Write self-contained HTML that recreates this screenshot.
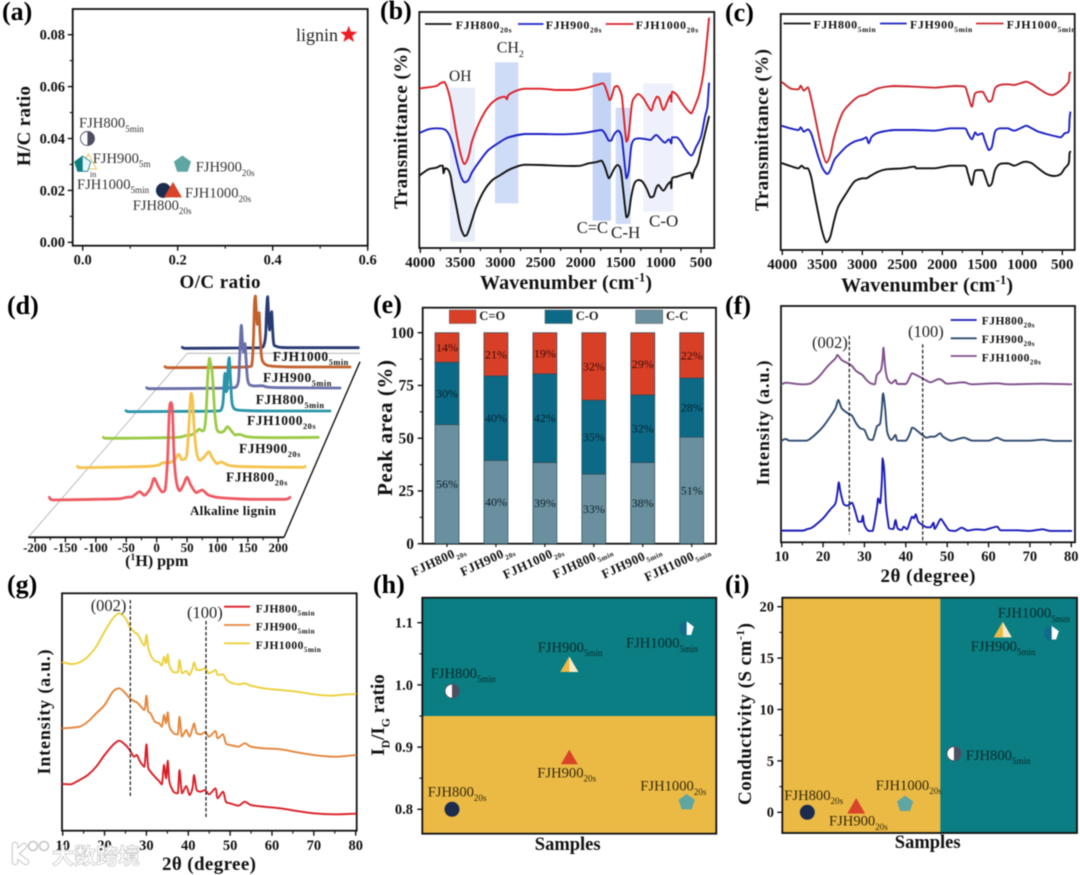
<!DOCTYPE html>
<html lang="en">
<head>
<meta charset="utf-8">
<title>FJH carbon characterisation figure</title>
<style>
html,body{margin:0;padding:0;background:#fff;width:1080px;height:875px;overflow:hidden}
svg{display:block;filter:blur(0.5px)}
text{font-family:"Liberation Serif","Noto Serif CJK SC",serif}
</style>
</head>
<body>
<svg id="figure" xmlns="http://www.w3.org/2000/svg" width="1080" height="875" viewBox="0 0 1080 875"></svg>
<script>
/* ---------- data: panel a ---------- */
const aXTickValues=[0,0.2,0.4,0.6];
const aXTickLabels=['0.0','0.2','0.4','0.6'];
const aYTickValues=[0,0.02,0.04,0.06,0.08];
const aYTickLabels=['0.00','0.02','0.04','0.06','0.08'];
const aOC=[0.56,0.01,0,0.012,0.17,0.19,0.21];
const aHC=[0.08,0.04,0.03,0.031,0.02,0.02,0.03];
/* ---------- data: panel b ---------- */
const ftirXTickValues=[4000,3500,3000,2500,2000,1500,1000,500];
const ftirXTickLabels=['4000','3500','3000','2500','2000','1500','1000','500'];
const bBlack=[[4000,525],[3900,508],[3800,503],[3750,497],[3720,497],[3710,520],[3690,505],[3650,510],[3620,530],[3600,560],[3550,620],[3500,680],[3450,708],[3420,705],[3380,680],[3300,620],[3200,570],[3100,540],[3000,525],[2900,510],[2800,500],[2700,494],[2500,495],[2300,497],[2100,498],[2000,497],[1900,490],[1800,486],[1740,482],[1700,500],[1650,535],[1620,525],[1580,505],[1540,495],[1500,510],[1470,570],[1430,652],[1400,640],[1370,590],[1330,550],[1280,540],[1230,545],[1180,565],[1130,592],[1090,588],[1060,565],[1030,555],[970,572],[920,555],[880,545],[870,565],[860,535],[800,530],[700,522],[630,518],[610,535],[590,515],[540,490],[500,450],[450,400],[400,350]];
const bBlue=[[4000,398],[3900,388],[3800,385],[3700,388],[3650,400],[3600,430],[3550,480],[3500,525],[3450,547],[3400,540],[3350,515],[3250,480],[3150,450],[3000,425],[2900,412],[2700,402],[2500,402],[2200,403],[2000,400],[1800,392],[1740,390],[1700,400],[1650,422],[1620,422],[1580,402],[1530,392],[1490,410],[1470,450],[1430,535],[1400,510],[1370,440],[1340,420],[1280,415],[1200,417],[1130,420],[1060,405],[1000,418],[950,428],[900,418],[870,430],[860,412],[800,412],[750,425],[700,445],[620,467],[560,440],[500,410],[450,350],[420,320],[400,250]];
const bRed=[[4000,265],[3900,262],[3800,258],[3750,250],[3700,246],[3650,275],[3600,330],[3550,400],[3500,460],[3450,492],[3400,470],[3350,420],[3250,360],[3150,320],[3050,298],[2950,290],[2920,298],[2900,285],[2800,272],[2700,266],[2500,266],[2300,270],[2100,270],[1950,265],[1800,255],[1720,250],[1680,270],[1640,300],[1620,295],[1580,262],[1540,258],[1490,285],[1470,330],[1430,425],[1400,400],[1360,310],[1320,290],[1280,282],[1220,295],[1170,315],[1120,332],[1090,310],[1050,290],[1020,295],[970,330],[920,305],[880,285],[870,305],[860,275],[800,285],[720,315],[650,335],[620,340],[580,320],[520,280],[470,220],[430,130],[400,55]];
const bBandNames=['OH','CH2','C=C','C-H','C-O'];
const bBandFrom=[3630,3069,1851,1564,1219];
const bBandTo=[3318,2778,1622,1377,845];
const bBandHigh=[263,187,218,323,250];
const bBandLow=[725,610,662,672,635];
const bBandFill=['#e8edf9','#cfdcf7','#c3d3f5','#cfdcf7','#eef1fb'];
/* ---------- data: panel c ---------- */
const cBlack=[[4000,490],[3900,498],[3800,505],[3760,497],[3720,505],[3680,505],[3640,530],[3600,580],[3550,640],[3500,695],[3450,727],[3400,710],[3350,660],[3300,620],[3200,580],[3100,545],[3000,535],[2950,535],[2900,528],[2800,515],[2700,508],[2500,505],[2350,500],[2320,505],[2100,505],[1900,497],[1720,497],[1680,520],[1630,555],[1590,512],[1500,510],[1470,525],[1420,558],[1380,550],[1340,510],[1280,492],[1180,490],[1100,497],[1000,487],[950,485],[880,490],[800,505],[700,522],[600,528],[520,522],[470,505],[420,490],[410,460],[400,455]];
const cBlue=[[4000,378],[3900,385],[3800,390],[3770,382],[3730,395],[3680,388],[3640,400],[3600,430],[3550,470],[3500,503],[3440,522],[3400,510],[3350,480],[3300,465],[3200,440],[3100,425],[3000,418],[2950,412],[2920,430],[2880,410],[2800,398],[2600,390],[2350,390],[2100,392],[1900,385],[1720,385],[1680,400],[1630,418],[1590,397],[1560,405],[1500,400],[1470,420],[1420,450],[1380,440],[1340,395],[1280,385],[1180,385],[1100,392],[1000,382],[950,377],[880,385],[800,395],[700,402],[600,408],[520,412],[470,400],[420,395],[410,360],[400,337]];
const cRed=[[4000,247],[3900,265],[3800,268],[3770,257],[3730,272],[3680,262],[3650,285],[3600,340],[3550,400],[3500,455],[3450,488],[3400,465],[3350,410],[3250,340],[3150,310],[3050,290],[2950,283],[2800,265],[2600,258],[2350,260],[2100,263],[1850,258],[1720,260],[1680,285],[1630,320],[1590,280],[1500,275],[1470,285],[1420,305],[1380,300],[1340,265],[1280,255],[1180,253],[1100,255],[1000,248],[950,245],[880,252],[800,265],[700,280],[620,285],[540,275],[470,260],[420,245],[410,220],[400,218]];
/* ---------- data: panel d ---------- */
const dXTickValues=[-200,-150,-100,-50,0,50,100,150,200];
const dXTickLabels=['-200','-150','-100','-50','0','50','100','150','200'];
const dAlkaline=[[-176,8],[-170,0],[-100,2],[-60,4],[-50,8],[-40,10],[-28,25],[-20,14],[-10,35],[-4,65],[3,40],[9,24],[14,30],[18,120],[21,270],[23.5,292],[26,270],[29,120],[33,50],[38,28],[44,45],[50,68],[56,45],[65,22],[75,30],[85,15],[100,8],[130,4],[160,2],[210,2],[219,8]];
const dFjh80020s=[[-176,4],[-170,0],[-100,2],[-50,4],[-35,8],[-27,15],[-18,14],[-8,22],[0,40],[5,24],[10,26],[14,40],[17,110],[20,200],[21.5,223],[24,200],[27,110],[31,45],[36,22],[44,32],[52,48],[58,30],[66,12],[74,17],[85,8],[100,4],[150,2],[215,1],[219,4]];
const dFjh90020s=[[-176,3],[-170,0],[-100,1],[-40,3],[-25,8],[-15,10],[-5,20],[0,28],[6,22],[10,30],[13,80],[16,190],[19,240],[21,225],[23.5,205],[26,150],[29,70],[33,25],[40,18],[46,22],[52,35],[58,25],[66,10],[75,12],[85,6],[100,3],[150,2],[219,3]];
const dFjh100020s=[[-176,3],[-170,0],[-50,1],[0,2],[8,5],[12,30],[14.5,100],[16,115],[18,60],[20,70],[22,140],[24,162],[26,110],[29,30],[33,10],[40,5],[60,3],[100,2],[219,2]];
const dFjh8005min=[[-176,3],[-170,0],[-50,1],[0,3],[8,8],[12,30],[15,130],[17.5,190],[20,130],[21.5,110],[23,125],[25,135],[27,90],[30,30],[34,12],[45,8],[60,9],[70,5],[100,3],[219,2]];
const dFjh9005min=[[-176,3],[-170,0],[-50,1],[5,3],[10,15],[13,90],[15,190],[17,215],[19,170],[21,130],[23,150],[25,165],[27,100],[30,35],[35,14],[50,5],[100,2],[219,2]];
const dFjh10005min=[[-176,3],[-170,0],[-50,1],[0,2],[7,10],[11,40],[13,110],[15.5,155],[18,85],[20,55],[22,90],[24.5,110],[26.5,60],[29,15],[35,6],[60,2],[219,2]];
/* ---------- data: panel e ---------- */
const eCategories=[['FJH800','20s'],['FJH900','20s'],['FJH1000','20s'],['FJH800','5min'],['FJH900','5min'],['FJH1000','5min']];
const eYTickValues=[0,25,50,75,100];
const eYTickLabels=['0','25','50','75','100'];
const eCC=[56.5,39.5,38.5,33,38.5,50.5];
const eCO=[29.5,40,42,35,32,28];
const eCdO=[14,20.5,19.5,32,29.5,21.5];
const eCCLabels=['56%','40%','39%','33%','38%','51%'];
const eCOLabels=['30%','40%','42%','35%','32%','28%'];
const eCdOLabels=['14%','21%','19%','32%','29%','22%'];
/* ---------- data: panel f ---------- */
const xrdXTickValues=[10,20,30,40,50,60,70,80];
const xrdXTickLabels=['10','20','30','40','50','60','70','80'];
const fBlue=[[10,707],[15,707],[16,703],[17,700],[18,692],[20,670],[21,655],[22,640],[23,625],[23.5,590],[23.8,562],[24.2,590],[25,628],[26,632],[27,623],[27.8,650],[28.5,680],[29.3,680],[29.6,662],[30,690],[31,708],[32,708],[33,640],[33.3,610],[33.8,625],[34.2,560],[34.4,490],[34.8,530],[35.2,630],[35.7,680],[36,700],[37,702],[37.5,675],[38,700],[39,705],[39.5,695],[40.3,703],[41,680],[41.5,665],[42,670],[42.4,658],[43,680],[44,690],[45,697],[46,697],[46.7,683],[47,702],[48,680],[48.5,672],[49.5,690],[50.5,706],[52,708],[53.5,698],[55,707],[57,703],[59,705],[62,695],[63,706],[67,706],[70,708],[73,703],[75,708],[80,708]];
const fSlate=[[10,437],[11,432],[12,437],[16,437],[18,420],[20,395],[22,360],[23,340],[23.7,315],[24.5,340],[26,355],[27,362],[28,385],[29,400],[30,405],[31,432],[32,435],[33,395],[33.8,385],[34.2,340],[34.5,295],[35,340],[35.5,410],[36.5,435],[37.5,420],[38,437],[40,437],[41,415],[41.5,398],[42,400],[43,410],[44,420],[45,428],[46,425],[47,425],[48.3,415],[49,425],[51,437],[54,428],[56,437],[60,437],[62,428],[64,437],[70,437],[73,434],[76,438],[80,438]];
const fPurple=[[10,268],[11,263],[13,266],[15,268],[17,265],[19,245],[21,215],[23,190],[23.5,180],[24.5,195],[26,205],[27,213],[28,228],[29.5,240],[30.5,255],[31.5,265],[32.5,268],[33,240],[34,225],[34.4,190],[34.6,158],[35,215],[35.5,250],[36.5,265],[37.5,255],[38,267],[40,267],[41,245],[41.5,235],[42.5,240],[44,250],[45,257],[46,262],[48,252],[49,258],[50,266],[54,262],[56,268],[62,265],[65,268],[73,266],[80,268]];
/* ---------- data: panel g ---------- */
const gRed=[[10,627],[12,628],[14,615],[16,600],[18,575],[20,540],[22,510],[23.5,497],[25,510],[26,525],[27,545],[27.7,540],[28.5,560],[29.5,575],[30,508],[30.4,575],[31,590],[32,605],[33,618],[33.7,628],[34.2,570],[34.7,610],[35.1,557],[35.5,620],[36.5,650],[37.5,655],[37.9,585],[38.5,655],[39.5,633],[40.3,660],[41,640],[41.4,600],[42,645],[43,650],[44,645],[45,658],[46.5,640],[47,670],[48.3,650],[49,680],[50,685],[52,692],[53.5,680],[55,690],[58,695],[62,700],[66,708],[70,715],[75,718],[80,716]];
const gOrange=[[10,460],[14,455],[16,440],[18,415],[20,390],[22,350],[23.5,340],[25,355],[26,370],[27,378],[28,385],[29.5,405],[30,362],[30.4,408],[31,415],[32,440],[33,445],[33.7,455],[34.2,420],[34.7,445],[35.1,412],[35.5,455],[36.5,475],[37.5,478],[37.9,425],[38.5,485],[39.5,465],[40.3,485],[41,460],[41.4,445],[42,475],[43,478],[44,472],[45,485],[46.5,468],[47,490],[48.3,478],[49,505],[50,510],[52,515],[53.5,505],[55,515],[58,520],[62,523],[66,532],[70,540],[75,545],[80,540]];
const gYellow=[[10,262],[12,267],[14,262],[16,245],[18,215],[20,170],[22,130],[23.5,115],[25,130],[26,155],[27,170],[28,180],[29.5,212],[30,180],[30.4,215],[31,240],[32,258],[33,262],[33.7,272],[34.2,245],[34.7,265],[35.1,238],[35.5,272],[36.5,292],[37.5,292],[37.9,255],[38.5,295],[39.5,288],[40.3,300],[41,280],[41.4,262],[42,285],[43,285],[44,280],[45,295],[46.5,285],[47,300],[48.3,298],[49,312],[50,322],[52,328],[53.5,325],[55,332],[58,340],[62,345],[66,350],[70,358],[74,362],[78,358],[80,357]];
/* ---------- data: panel h ---------- */
const hYTickValues=[0.8,0.9,1.0,1.1];
const hYTickLabels=['0.8','0.9','1.0','1.1'];
const hColumn=[1,2,3,1,2,3];
const hRatio=[0.80,0.883,0.811,0.99,1.032,1.09];
const hThreshold=[0.95];
/* ---------- data: panel i ---------- */
const iYTickValues=[0,5,10,15,20];
const iYTickLabels=['0','5','10','15','20'];
const iSample=[1,2,3,4,5,6];
const iConductivity=[0,0.55,0.8,5.7,17.7,17.4];
const iDivide=[3.72];

/* ---------- helpers ---------- */
const NS='http://www.w3.org/2000/svg';
const root=document.getElementById('figure');
function linear(d0,d1,r0,r1){return function(v){return r0+(v-d0)*(r1-r0)/(d1-d0);};}
function el(tag,attrs,parent,name){
  const e=document.createElementNS(NS,tag);
  for(const k in attrs){e.setAttribute(k,attrs[k]);}
  
  
  parent.appendChild(e);
  return e;
}
function group(name){return el('g',{},root,name);}
function label(parent,x,y,segments,o,name){
  o=o||{};
  const size=o.size||15;
  const a={x:x,y:y,'font-size':size,fill:o.fill||'#111','text-anchor':o.anchor||'start','font-weight':o.bold?'bold':'normal'};
  if(o.rot){a.transform='rotate('+o.rot+' '+x+' '+y+')';}
  if(o.ls){a['letter-spacing']=o.ls;}
  if(o.len){a.textLength=o.len;a.lengthAdjust='spacing';}
  if(o.family){a.style='font-family:'+o.family;}
  const t=el('text',a,parent,name);
  let shift=0;
  segments.forEach(function(s){
    const sp=document.createElementNS(NS,'tspan');
    sp.textContent=s[0];
    let target=0;
    if(s[1]==='sub'){target=size*0.28;sp.setAttribute('font-size',size*(o.subScale||0.62));}
    if(s[1]==='sup'){target=-size*0.38;sp.setAttribute('font-size',size*0.62);}
    if(target!==shift){sp.setAttribute('dy',target-shift);shift=target;}
    t.appendChild(sp);
  });
  return t;
}
function frame(g,l,t,r,b,name){el('rect',{x:l,y:t,width:r-l,height:b-t,fill:'none',stroke:'#111','stroke-width':1.8},g,name);}
function xAxis(g,scale,values,labels,axisY,labelY,size,minorStep,name){
  values.forEach(function(v,i){
    const x=scale(v);
    el('line',{x1:x,x2:x,y1:axisY,y2:axisY+5,stroke:'#111','stroke-width':1.4},g,name+'-tick');
    label(g,x,labelY,[[labels[i]]],{bold:true,size:size,anchor:'middle'},name+'-tick-label');
    if(i<values.length-1){
      const m=scale((v+values[i+1])/2);
      el('line',{x1:m,x2:m,y1:axisY,y2:axisY+3,stroke:'#111','stroke-width':1.1},g,name+'-minor-tick');
    }
  });
}
function yAxis(g,scale,values,labels,axisX,labelX,size,name){
  values.forEach(function(v,i){
    const y=scale(v);
    el('line',{x1:axisX,x2:axisX-5,y1:y,y2:y,stroke:'#111','stroke-width':1.4},g,name+'-tick');
    label(g,labelX,y+size*0.34,[[labels[i]]],{bold:true,size:size,anchor:'end'},name+'-tick-label');
    if(i<values.length-1){
      const m=scale((v+values[i+1])/2);
      el('line',{x1:axisX,x2:axisX-3,y1:m,y2:m,stroke:'#111','stroke-width':1.1},g,name+'-minor-tick');
    }
  });
}
function clamp(v,a,b){const lo=Math.min(a,b),hi=Math.max(a,b);return Math.max(lo,Math.min(hi,v));}
function trace(g,pairs,X,Y,color,width,name,opacity){
  const pts=pairs.map(function(p){return [X(p[0]),Y(p[1])];});
  let d='M'+pts[0][0].toFixed(2)+' '+pts[0][1].toFixed(2);
  const k=0.9/6;
  for(let i=0;i<pts.length-1;i++){
    const p0=pts[Math.max(0,i-1)],p1=pts[i],p2=pts[i+1],p3=pts[Math.min(pts.length-1,i+2)];
    const c1x=clamp(p1[0]+(p2[0]-p0[0])*k,p1[0],p2[0]),c1y=clamp(p1[1]+(p2[1]-p0[1])*k,p1[1],p2[1]);
    const c2x=clamp(p2[0]-(p3[0]-p1[0])*k,p1[0],p2[0]),c2y=clamp(p2[1]-(p3[1]-p1[1])*k,p1[1],p2[1]);
    d+='C'+c1x.toFixed(2)+' '+c1y.toFixed(2)+' '+c2x.toFixed(2)+' '+c2y.toFixed(2)+' '+p2[0].toFixed(2)+' '+p2[1].toFixed(2);
  }
  const a={d:d,fill:'none',stroke:color,'stroke-width':width,'stroke-linejoin':'round','stroke-linecap':'round'};
  if(opacity){a.opacity=opacity;}
  return el('path',a,g,name);
}
function penta(cx,cy,r,half){
  const pts=[];
  for(let k=0;k<5;k++){const an=-Math.PI/2+k*2*Math.PI/5;pts.push([cx+r*Math.cos(an),cy+r*Math.sin(an)]);}
  let use=pts;
  if(half==='right'){use=[[cx,cy-r],pts[1],pts[2],[cx,pts[2][1]]];}
  if(half==='left'){use=[[cx,cy-r],[cx,pts[3][1]],pts[3],pts[4]];}
  return use.map(function(p){return p[0].toFixed(2)+','+p[1].toFixed(2);}).join(' ');
}
function circleMark(g,x,y,r,name){el('circle',{cx:x,cy:y,r:r,fill:'#1c2c4f'},g,name);}
function triangleMark(g,x,y,s,name,fill){el('polygon',{points:(x-s)+','+(y+s*0.78)+' '+(x+s)+','+(y+s*0.78)+' '+x+','+(y-s*0.95),fill:fill||'#d8432a'},g,name);}
function pentaMark(g,x,y,r,name,fill){el('polygon',{points:penta(x,y,r),fill:fill||'#5fa5a2'},g,name);}
function halfCircle(g,x,y,r,name){
  el('circle',{cx:x,cy:y,r:r,fill:'#fff',stroke:'#4e4e62','stroke-width':0.9},g,name+'-ring');
  el('path',{d:'M'+x+' '+(y-r)+'A'+r+' '+r+' 0 0 1 '+x+' '+(y+r)+'Z',fill:'#4e4e62'},g,name);
}
function halfTriangle(g,x,y,s,name){
  el('polygon',{points:(x-s)+','+(y+s*0.78)+' '+(x+s)+','+(y+s*0.78)+' '+x+','+(y-s*0.95),fill:'#f8ecc8'},g,name+'-light');
  el('polygon',{points:(x-s)+','+(y+s*0.78)+' '+x+','+(y+s*0.78)+' '+x+','+(y-s*0.95),fill:'#eab942'},g,name);
}
function circlePenta(g,x,y,r,name){
  el('path',{d:'M'+x+' '+(y-r)+'A'+r+' '+r+' 0 0 0 '+x+' '+(y+r)+'Z',fill:'#0f6a8c'},g,name+'-disc');
  el('polygon',{points:penta(x,y,r,'right'),fill:'#fff'},g,name);
}
function star(g,x,y,R,name){
  const pts=[];
  for(let k=0;k<10;k++){const rr=k%2?R*0.42:R;const an=-Math.PI/2+k*Math.PI/5;pts.push((x+rr*Math.cos(an)).toFixed(2)+','+(y+rr*Math.sin(an)).toFixed(2));}
  el('polygon',{points:pts.join(' '),fill:'#ee1c25'},g,name);
}
function panelLetter(x,y,s){label(root,x,y,[[s]],{bold:true,size:26,fill:'#000'},'panel-label');}
function fjh(b,s){return [[b],[s,'sub']];}
function legendLine(g,x1,x2,y,color,tx,ty,b,s,size,ls,name){
  el('line',{x1:x1,x2:x2,y1:y,y2:y,stroke:color,'stroke-width':1.8},g,name+'-swatch');
  label(g,tx,ty,fjh(b,s),{bold:true,size:size,ls:ls},name);
}
function dashed(g,x,y1,y2,name){el('line',{x1:x,x2:x,y1:y1,y2:y2,stroke:'#111','stroke-width':1.2,'stroke-dasharray':'3.5 2'},g,name);}

/* ---------- panel a ---------- */
(function(){
  const g=group('panel-a-scatter');
  const X=linear(0,0.6,82.7,367.7),Y=linear(0,0.08,242.3,34.7);
  frame(g,72.7,9,367.7,245.7,'plot-frame');
  xAxis(g,X,aXTickValues,aXTickLabels,245.7,264.5,14.5,0,'x-axis');
  yAxis(g,Y,aYTickValues,aYTickLabels,72.7,65,14.5,'y-axis');
  label(g,220,288,[['O/C ratio']],{bold:true,size:19,anchor:'middle',len:81},'x-axis-title');
  label(g,30,126,[['H/C ratio']],{bold:true,size:19,anchor:'middle',rot:-90,len:80},'y-axis-title');
  el('polygon',{points:(X(aOC[3])-8)+','+(Y(aHC[3])+7)+' '+(X(aOC[3])+8)+','+(Y(aHC[3])+7)+' '+X(aOC[3])+','+(Y(aHC[3])-8),fill:'#fff',stroke:'#eec365','stroke-width':1},g,'fjh900-5min-marker');
  el('polygon',{points:penta(X(aOC[2]),Y(aHC[2]),8.5),fill:'#e6f6f6',stroke:'#0a7e82','stroke-width':0.8},g,'fjh1000-5min-marker-outline');
  el('polygon',{points:penta(X(aOC[2]),Y(aHC[2]),8.5,'left'),fill:'#0a7e82'},g,'fjh1000-5min-marker');
  star(g,X(aOC[0]),Y(aHC[0]),9,'lignin-marker');
  halfCircle(g,X(aOC[1]),Y(aHC[1]),7,'fjh800-5min-marker');
  circleMark(g,X(aOC[4]),Y(aHC[4]),7.5,'fjh800-20s-marker');
  triangleMark(g,X(aOC[5]),Y(aHC[5]),9,'fjh1000-20s-marker');
  pentaMark(g,X(aOC[6]),Y(aHC[6]),9,'fjh900-20s-marker');
  label(g,296,41,[['lignin']],{size:18,fill:'#222'},'lignin-label');
  label(g,79,127.7,fjh('FJH800','5min'),{size:14.6,fill:'#333'},'fjh800-5min-label');
  label(g,92.7,163,fjh('FJH900','5m'),{size:14.6,fill:'#333'},'fjh900-5min-label');
  label(g,90,177,[['in']],{size:8,fill:'#333'},'fjh900-5min-label-wrap');
  label(g,77,189,fjh('FJH1000','5min'),{size:14.6,fill:'#333'},'fjh1000-5min-label');
  label(g,195.7,171.7,fjh('FJH900','20s'),{size:14.6,fill:'#333'},'fjh900-20s-label');
  label(g,185,197.7,fjh('FJH1000','20s'),{size:14.6,fill:'#333'},'fjh1000-20s-label');
  label(g,132.7,210,fjh('FJH800','20s'),{size:14.6,fill:'#333'},'fjh800-20s-label');
})();

/* ---------- panel b ---------- */
(function(){
  const g=group('panel-b-ftir-20s');
  const X=linear(4000,500,420.3,701),Y=linear(744,36,248,12);
  bBandNames.forEach(function(n,i){
    el('rect',{x:X(bBandFrom[i]),y:Y(bBandHigh[i]),width:X(bBandTo[i])-X(bBandFrom[i]),height:Y(bBandLow[i])-Y(bBandHigh[i]),fill:bBandFill[i]},g,'band-'+n.toLowerCase().replace('=','-'));
  });
  frame(g,419.3,12,714.3,248,'plot-frame');
  xAxis(g,X,ftirXTickValues,ftirXTickLabels,248,267,15,0,'x-axis');
  label(g,566,289,[['Wavenumber (cm'],['-1','sup'],[')']],{bold:true,size:20,anchor:'middle',len:172},'x-axis-title');
  label(g,407,128,[['Transmittance (%)']],{bold:true,size:19,anchor:'middle',rot:-90,len:162},'y-axis-title');
  trace(g,bBlack,X,Y,'#111',1.9,'fjh800-20s-line');
  trace(g,bBlue,X,Y,'#1c20c4',1.9,'fjh900-20s-line');
  trace(g,bRed,X,Y,'#dc2028',1.9,'fjh1000-20s-line');
  legendLine(g,425,451.7,24,'#111',455.7,29,'FJH800','20s',12,0.6,'legend-fjh800-20s');
  legendLine(g,518,543.5,24,'#1c20c4',545.7,29,'FJH900','20s',12,0.6,'legend-fjh900-20s');
  legendLine(g,605.7,633.5,24,'#dc2028',635.7,29,'FJH1000','20s',12,0.6,'legend-fjh1000-20s');
  label(g,496.7,52.7,[['CH'],['2','sub']],{size:16,fill:'#222'},'ch2-label');
  label(g,449,81,[['OH']],{size:15.5,fill:'#222'},'oh-label');
  label(g,576.7,233,[['C=C']],{size:16.5,fill:'#222'},'c-c-label');
  label(g,611,238,[['C-H']],{size:17,fill:'#222'},'c-h-label');
  label(g,649,226.7,[['C-O']],{size:17,fill:'#222'},'c-o-label');
})();

/* ---------- panel c ---------- */
(function(){
  const g=group('panel-c-ftir-5min');
  const X=linear(4000,500,782.3,1062.3),Y=linear(750,42,250,14);
  frame(g,780.7,14,1074.7,250,'plot-frame');
  xAxis(g,X,ftirXTickValues,ftirXTickLabels,250,269,15,0,'x-axis');
  label(g,927,291.5,[['Wavenumber (cm'],['-1','sup'],[')']],{bold:true,size:20,anchor:'middle',len:172},'x-axis-title');
  label(g,768,130,[['Transmittance (%)']],{bold:true,size:19,anchor:'middle',rot:-90,len:162},'y-axis-title');
  trace(g,cBlack,X,Y,'#111',1.9,'fjh800-5min-line');
  trace(g,cBlue,X,Y,'#1c20c4',1.9,'fjh900-5min-line');
  trace(g,cRed,X,Y,'#c92b32',1.9,'fjh1000-5min-line');
  legendLine(g,783.5,810.7,23.5,'#111',813.5,28.5,'FJH800','5min',12,0.6,'legend-fjh800-5min');
  legendLine(g,880,906.7,23.5,'#1c20c4',910,28.5,'FJH900','5min',12,0.6,'legend-fjh900-5min');
  legendLine(g,976,1003.5,23.5,'#c92b32',1006.7,28.5,'FJH1000','5min',12,0.6,'legend-fjh1000-5min');
})();

/* ---------- panel d ---------- */
(function(){
  const g=group('panel-d-nmr-waterfall');
  const X=linear(-200,200,35,278.3);
  el('line',{x1:28.3,y1:537.3,x2:187.3,y2:353.3,stroke:'#aaa','stroke-width':0.8},g,'floor-left-edge');
  el('line',{x1:187.3,y1:353.3,x2:360,y2:353.3,stroke:'#aaa','stroke-width':0.8},g,'floor-back-edge');
  el('line',{x1:284,y1:537.3,x2:360,y2:361.7,stroke:'#111','stroke-width':1.4},g,'floor-right-edge');
  el('line',{x1:28.3,y1:537.3,x2:284,y2:537.3,stroke:'#111','stroke-width':1.8},g,'x-axis-line');
  xAxis(g,X,dXTickValues,dXTickLabels,537.3,552,13,0,'x-axis');
  label(g,156.7,566,[['('],['1','sup'],['H) ppm']],{bold:true,size:16,anchor:'middle'},'x-axis-title');
  function nmr(pairs,left,width,base,color,name){
    const PX=function(p){return (left+(p+176)/395*width)/3;};
    const PY=function(v){return 290+(base-v)/3;};
    trace(g,pairs,PX,PY,color,2.8,name);
  }
  nmr(dFjh10005min,547,528,175,'#283a72','fjh1000-5min-spectrum');
  nmr(dFjh9005min,495,555,233,'#c2612e','fjh900-5min-spectrum');
  nmr(dFjh8005min,440,580,296,'#6a6fa8','fjh800-5min-spectrum');
  nmr(dFjh100020s,378,612,365,'#2a95a8','fjh1000-20s-spectrum');
  nmr(dFjh90020s,310,645,445,'#9acb45','fjh900-20s-spectrum');
  nmr(dFjh80020s,232,683,533,'#f5c34d','fjh800-20s-spectrum');
  nmr(dAlkaline,148,722,630,'#ee5a63','alkaline-lignin-spectrum');
  label(g,272.7,361,fjh('FJH1000','5min'),{bold:true,size:13.5,ls:0.5},'fjh1000-5min-label');
  label(g,263,382,fjh('FJH900','5min'),{bold:true,size:13.5,ls:0.5},'fjh900-5min-label');
  label(g,255.7,404,fjh('FJH800','5min'),{bold:true,size:13.5,ls:0.5},'fjh800-5min-label');
  label(g,247,425,fjh('FJH1000','20s'),{bold:true,size:13.5,ls:0.5},'fjh1000-20s-label');
  label(g,239,453,fjh('FJH900','20s'),{bold:true,size:13.5,ls:0.5},'fjh900-20s-label');
  label(g,226,481.7,fjh('FJH800','20s'),{bold:true,size:13.5,ls:0.5},'fjh800-20s-label');
  label(g,190,515,[['Alkaline lignin']],{bold:true,size:13,len:86},'alkaline-lignin-label');
})();

/* ---------- panel e ---------- */
(function(){
  const g=group('panel-e-stacked-bars');
  const X=linear(0,5,447,691.7),Y=linear(0,100,543.7,332.7);
  const barW=24;
  frame(g,422.7,307.7,716,543.7,'plot-frame');
  yAxis(g,Y,eYTickValues,eYTickLabels,422.7,414,15.5,'y-axis');
  label(g,392,428,[['Peak area (%)']],{bold:true,size:21,anchor:'middle',rot:-90,len:136},'y-axis-title');
  eCategories.forEach(function(c,i){
    const x=X(i);
    const y0=Y(0),y1=Y(eCC[i]),y2=Y(eCC[i]+eCO[i]),y3=Y(eCC[i]+eCO[i]+eCdO[i]);
    const stroke='#2b4a55';
    el('rect',{x:x-barW/2,y:y1,width:barW,height:y0-y1,fill:'#6a909f',stroke:stroke,'stroke-width':0.7},g,'bar-c-c');
    el('rect',{x:x-barW/2,y:y2,width:barW,height:y1-y2,fill:'#0d6a87',stroke:stroke,'stroke-width':0.7},g,'bar-c-o');
    el('rect',{x:x-barW/2,y:y3,width:barW,height:y2-y3,fill:'#d83f27',stroke:stroke,'stroke-width':0.7},g,'bar-c-double-o');
    label(g,x,(y0+y1)/2+4,[[eCCLabels[i]]],{size:12,anchor:'middle',fill:'#0c2028'},'c-c-value');
    label(g,x,(y1+y2)/2+4,[[eCOLabels[i]]],{size:12,anchor:'middle',fill:'#04222e'},'c-o-value');
    label(g,x,(y2+y3)/2+4,[[eCdOLabels[i]]],{size:12,anchor:'middle',fill:'#3c0d06'},'c-double-o-value');
    el('line',{x1:x,x2:x,y1:543.7,y2:547,stroke:'#111','stroke-width':1.2},g,'x-axis-tick');
    label(g,x+19,552,fjh(c[0],c[1]),{bold:true,size:13,anchor:'end',rot:-25,ls:0.4,subScale:0.55},'category-label');
  });
  el('rect',{x:449.3,y:310,width:26.7,height:13.5,fill:'#d83f27',stroke:'#555','stroke-width':0.5},g,'legend-c-double-o-swatch');
  label(g,479.3,320,[['C=O']],{bold:true,size:12.5,fill:'#222'},'legend-c-double-o');
  el('rect',{x:545,y:310,width:27.3,height:13.5,fill:'#0d6a87',stroke:'#555','stroke-width':0.5},g,'legend-c-o-swatch');
  label(g,575.7,320,[['C-O']],{bold:true,size:12.5,fill:'#222'},'legend-c-o');
  el('rect',{x:635.7,y:310,width:27,height:13.5,fill:'#6a909f',stroke:'#555','stroke-width':0.5},g,'legend-c-c-swatch');
  label(g,666,320,[['C-C']],{bold:true,size:12.5,fill:'#222'},'legend-c-c');
})();

/* ---------- panel f ---------- */
(function(){
  const g=group('panel-f-xrd-20s');
  const X=linear(10,80,781.7,1071.3),Y=linear(742,33,542.3,306);
  frame(g,781,306,1075,542.3,'plot-frame');
  xAxis(g,X,xrdXTickValues,xrdXTickLabels,542.3,561,14.5,0,'x-axis');
  label(g,928,582,[['2θ (degree)']],{bold:true,size:19,anchor:'middle',len:95},'x-axis-title');
  label(g,769,423,[['Intensity (a.u.)']],{bold:true,size:18,anchor:'middle',rot:-90,len:125},'y-axis-title');
  trace(g,fBlue,X,Y,'#1a1ab8',1.9,'fjh800-20s-line');
  trace(g,fSlate,X,Y,'#2e4a6e',1.9,'fjh900-20s-line');
  trace(g,fPurple,X,Y,'#7f4f8a',1.9,'fjh1000-20s-line');
  dashed(g,849.3,335.7,534.3,'peak-002-marker');
  dashed(g,922.7,344.3,541,'peak-100-marker');
  label(g,812,348,[['(002)']],{size:16.5,fill:'#222'},'peak-002-label');
  label(g,908,337,[['(100)']],{size:16.5,fill:'#222'},'peak-100-label');
  legendLine(g,950.7,976.7,320,'#1a1ab8',981.7,324.5,'FJH800','20s',11.5,0.5,'legend-fjh800-20s');
  legendLine(g,950.7,976.7,338.3,'#2e4a6e',981.7,343,'FJH900','20s',11.5,0.5,'legend-fjh900-20s');
  legendLine(g,950.7,976.7,356,'#7f4f8a',981.7,361.5,'FJH1000','20s',11.5,0.5,'legend-fjh1000-20s');
})();

/* ---------- panel g ---------- */
(function(){
  const g=group('panel-g-xrd-5min');
  const X=linear(10,80,62.7,355.7),Y=linear(767,55,830.7,593.3);
  frame(g,62,593.3,356.7,830.7,'plot-frame');
  xAxis(g,X,xrdXTickValues,xrdXTickLabels,830.7,850,14.5,0,'x-axis');
  label(g,209,870,[['2θ (degree)']],{bold:true,size:19,anchor:'middle',len:94},'x-axis-title');
  label(g,50,712,[['Intensity (a.u.)']],{bold:true,size:18,anchor:'middle',rot:-90,len:125},'y-axis-title');
  trace(g,gRed,X,Y,'#d91e26',1.9,'fjh800-5min-line');
  trace(g,gOrange,X,Y,'#e5863b',1.9,'fjh900-5min-line');
  trace(g,gYellow,X,Y,'#ecd03c',1.9,'fjh1000-5min-line');
  dashed(g,130.3,600,797.7,'peak-002-marker');
  dashed(g,206,621,818.3,'peak-100-marker');
  label(g,90.7,611,[['(002)']],{size:16.5,fill:'#222'},'peak-002-label');
  label(g,187,618,[['(100)']],{size:16.5,fill:'#222'},'peak-100-label');
  legendLine(g,224,250,606.7,'#d91e26',255.7,612.5,'FJH800','5min',11.5,0.5,'legend-fjh800-5min');
  legendLine(g,224,250,625,'#e5863b',255.7,630.5,'FJH900','5min',11.5,0.5,'legend-fjh900-5min');
  legendLine(g,224,250,643.3,'#ecd03c',255.7,649,'FJH1000','5min',11.5,0.5,'legend-fjh1000-5min');
})();

/* ---------- panel h ---------- */
(function(){
  const g=group('panel-h-id-ig');
  const X=linear(1,3,452,686.7),Y=linear(0.8,1.1,809.3,622.7);
  const l=422.3,r=716.3,t=597.7,b=833.7,mid=Y(hThreshold[0]);
  el('rect',{x:l,y:t,width:r-l,height:mid-t,fill:'#0a7e82'},g,'high-ratio-region');
  el('rect',{x:l,y:mid,width:r-l,height:b-mid,fill:'#ebba45'},g,'low-ratio-region');
  frame(g,l,t,r,b,'plot-frame');
  yAxis(g,Y,hYTickValues,hYTickLabels,l,413,14.5,'y-axis');
  label(g,384,715,[['I'],['D','sub'],['/I'],['G','sub'],[' ratio']],{bold:true,size:19,anchor:'middle',rot:-90},'y-axis-title');
  label(g,567.7,850,[['Samples']],{bold:true,size:18.5,anchor:'middle'},'x-axis-title');
  circleMark(g,X(hColumn[0]),Y(hRatio[0]),7.5,'fjh800-20s-marker');
  triangleMark(g,X(hColumn[1]),Y(hRatio[1]),8.5,'fjh900-20s-marker');
  pentaMark(g,X(hColumn[2]),Y(hRatio[2]),8.5,'fjh1000-20s-marker');
  halfCircle(g,X(hColumn[3]),Y(hRatio[3]),7,'fjh800-5min-marker');
  halfTriangle(g,X(hColumn[4]),Y(hRatio[4]),9,'fjh900-5min-marker');
  circlePenta(g,X(hColumn[5]),Y(hRatio[5]),7.5,'fjh1000-5min-marker');
  const teal='#06292e',gold='#33280c';
  label(g,430.7,678,fjh('FJH800','5min'),{size:14.6,fill:teal},'fjh800-5min-label');
  label(g,537.7,652,fjh('FJH900','5min'),{size:14.6,fill:teal},'fjh900-5min-label');
  label(g,626,647.7,fjh('FJH1000','5min'),{size:14.6,fill:teal},'fjh1000-5min-label');
  label(g,427.7,796.7,fjh('FJH800','20s'),{size:14.6,fill:gold},'fjh800-20s-label');
  label(g,537.3,777.3,fjh('FJH900','20s'),{size:14.6,fill:gold},'fjh900-20s-label');
  label(g,640.3,790.7,fjh('FJH1000','20s'),{size:14.6,fill:gold},'fjh1000-20s-label');
})();

/* ---------- panel i ---------- */
(function(){
  const g=group('panel-i-conductivity');
  const X=linear(1,6,807.3,1051.7),Y=linear(0,20,812.3,606.7);
  const l=782.3,r=1077,t=597.7,b=833,mid=X(iDivide[0]);
  el('rect',{x:l,y:t,width:mid-l,height:b-t,fill:'#ebba45'},g,'low-conductivity-region');
  el('rect',{x:mid,y:t,width:r-mid,height:b-t,fill:'#0a7e82'},g,'high-conductivity-region');
  frame(g,l,t,r,b,'plot-frame');
  yAxis(g,Y,iYTickValues,iYTickLabels,l,774,14.5,'y-axis');
  label(g,751,714,[['Conductivity (S cm'],['-1','sup'],[')']],{bold:true,size:19,anchor:'middle',rot:-90,len:182},'y-axis-title');
  label(g,927.7,848,[['Samples']],{bold:true,size:18.5,anchor:'middle'},'x-axis-title');
  circleMark(g,X(iSample[0]),Y(iConductivity[0]),7.5,'fjh800-20s-marker');
  triangleMark(g,X(iSample[1]),Y(iConductivity[1]),9,'fjh900-20s-marker');
  pentaMark(g,X(iSample[2]),Y(iConductivity[2]),8.5,'fjh1000-20s-marker');
  halfCircle(g,X(iSample[3]),Y(iConductivity[3]),7,'fjh800-5min-marker');
  halfTriangle(g,X(iSample[4]),Y(iConductivity[4]),9,'fjh900-5min-marker');
  circlePenta(g,X(iSample[5]),Y(iConductivity[5]),7.5,'fjh1000-5min-marker');
  const teal='#06292e',gold='#33280c';
  label(g,997.7,617.7,fjh('FJH1000','5min'),{size:14.6,fill:teal},'fjh1000-5min-label');
  label(g,970.7,651,fjh('FJH900','5min'),{size:14.6,fill:teal},'fjh900-5min-label');
  label(g,965.7,760,fjh('FJH800','5min'),{size:14.6,fill:teal},'fjh800-5min-label');
  label(g,875.7,790,fjh('FJH1000','20s'),{size:14.6,fill:gold},'fjh1000-20s-label');
  label(g,784.3,800,fjh('FJH800','20s'),{size:14.6,fill:gold},'fjh800-20s-label');
  label(g,829,825.7,fjh('FJH900','20s'),{size:14.6,fill:gold},'fjh900-20s-label');
})();

/* ---------- panel letters ---------- */
panelLetter(2,20,'(a)');
panelLetter(380,19,'(b)');
panelLetter(725,21,'(c)');
panelLetter(7,314,'(d)');
panelLetter(373,313,'(e)');
panelLetter(725,314,'(f)');
panelLetter(7,593,'(g)');
panelLetter(373,593,'(h)');
panelLetter(725,593,'(i)');

/* ---------- watermark ---------- */
(function(){
  const g=group('watermark');
  const s='#c4c4c4';
  el('path',{d:'M15 845V862M15 854L24 846M15 854L26 862',fill:'none',stroke:s,'stroke-width':6.5,'stroke-linecap':'round'},g,'watermark-logo-outline');
  el('path',{d:'M15 845V862M15 854L24 846M15 854L26 862',fill:'none',stroke:'#fff','stroke-width':4.5,'stroke-linecap':'round'},g,'watermark-logo');
  el('circle',{cx:33,cy:846,r:4.5,fill:'#fff',stroke:s,'stroke-width':1.6},g,'watermark-dot-left');
  el('circle',{cx:44,cy:846,r:4.5,fill:'#fff',stroke:s,'stroke-width':1.6},g,'watermark-dot-right');
  label(g,52,864,[['大数跨境']],{size:22,bold:true,fill:'#fff',family:'"Noto Sans CJK SC",sans-serif'},'watermark-text');
  g.lastChild.setAttribute('stroke',s);
  g.lastChild.setAttribute('stroke-width','0.7');
})();
</script>
</body>
</html>
